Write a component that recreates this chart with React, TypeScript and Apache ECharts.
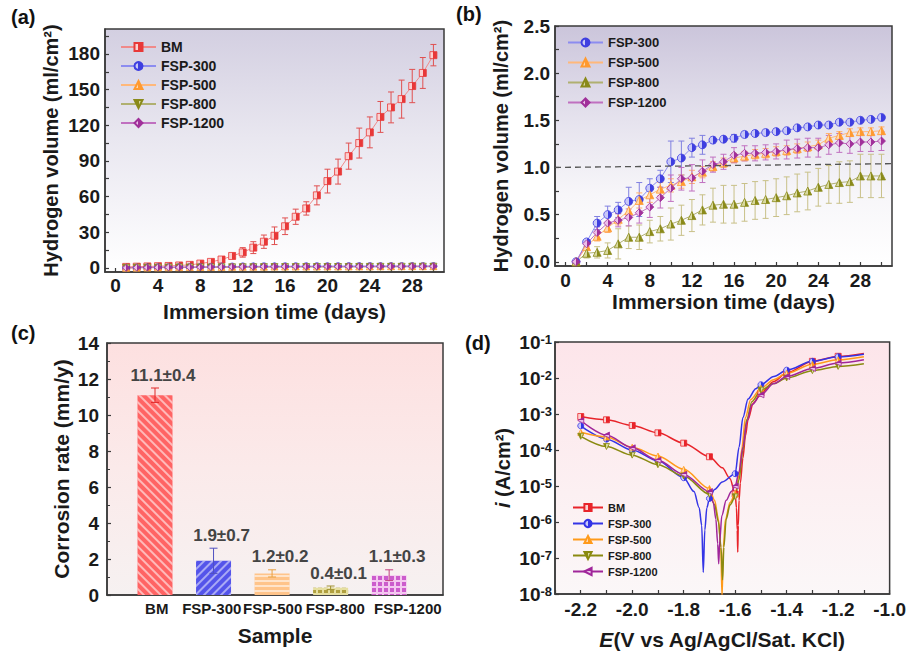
import React, { useEffect, useRef } from 'react';
import * as echarts from 'echarts';

// ---------- data ----------
const days = [1, 2, 3, 4, 5, 6, 7, 8, 9, 10, 11, 12, 13, 14, 15, 16, 17, 18, 19, 20, 21, 22, 23, 24, 25, 26, 27, 28, 29, 30];

const bmVolume = [0.8, 1.0, 1.2, 1.4, 1.6, 2.0, 2.5, 3.6, 5, 7, 10, 13, 17, 22, 27, 35, 43, 50, 61, 73, 81, 94, 105, 114, 127, 135, 142, 153, 164, 179];
const bmVolumeErr = [0.3, 0.3, 0.3, 0.4, 0.4, 0.5, 0.6, 0.8, 1, 1.5, 2, 4, 5, 5.6, 7.4, 7, 6.4, 5.6, 8, 10, 10.5, 11, 12.6, 13, 13, 13, 16, 14, 13, 9];

const fsp300Volume = [0, 0.21, 0.41, 0.5, 0.55, 0.64, 0.66, 0.78, 0.88, 1.06, 1.1, 1.21, 1.24, 1.29, 1.3, 1.31, 1.35, 1.36, 1.37, 1.38, 1.39, 1.42, 1.43, 1.45, 1.45, 1.48, 1.48, 1.5, 1.51, 1.53];
const fsp300Err = [0, 0.02, 0.07, 0.09, 0.08, 0.15, 0.18, 0.1, 0.09, 0.22, 0.18, 0.1, 0.1, 0.03, 0.03, 0.04, 0.03, 0.03, 0.03, 0.03, 0.02, 0.02, 0.02, 0.02, 0.02, 0.02, 0.02, 0.02, 0.02, 0.02];
const fsp500Volume = [0, 0.16, 0.27, 0.36, 0.45, 0.54, 0.65, 0.71, 0.77, 0.81, 0.85, 0.9, 0.95, 1.01, 1.05, 1.1, 1.12, 1.14, 1.15, 1.17, 1.18, 1.2, 1.22, 1.24, 1.31, 1.34, 1.37, 1.38, 1.38, 1.39];
const fsp500Err = [0, 0.03, 0.05, 0.05, 0.06, 0.07, 0.08, 0.08, 0.07, 0.07, 0.07, 0.07, 0.06, 0.05, 0.05, 0.05, 0.05, 0.05, 0.05, 0.05, 0.05, 0.05, 0.05, 0.05, 0.05, 0.04, 0.04, 0.04, 0.04, 0.04];
const fsp800Volume = [0, 0.09, 0.1, 0.12, 0.19, 0.26, 0.26, 0.32, 0.35, 0.4, 0.44, 0.49, 0.55, 0.6, 0.61, 0.61, 0.63, 0.65, 0.66, 0.68, 0.7, 0.73, 0.75, 0.79, 0.82, 0.84, 0.85, 0.91, 0.91, 0.91];
const fsp800Err = [0, 0.05, 0.06, 0.08, 0.16, 0.12, 0.13, 0.12, 0.13, 0.17, 0.16, 0.17, 0.16, 0.18, 0.2, 0.2, 0.2, 0.2, 0.2, 0.2, 0.2, 0.2, 0.2, 0.2, 0.2, 0.22, 0.22, 0.23, 0.23, 0.23];
const fsp1200Volume = [0, 0.19, 0.31, 0.41, 0.44, 0.47, 0.52, 0.58, 0.68, 0.78, 0.88, 0.89, 0.96, 1.03, 1.06, 1.13, 1.15, 1.15, 1.16, 1.17, 1.19, 1.2, 1.21, 1.21, 1.24, 1.26, 1.25, 1.27, 1.27, 1.28];
const fsp1200Err = [0, 0.03, 0.06, 0.07, 0.07, 0.09, 0.11, 0.11, 0.11, 0.14, 0.12, 0.14, 0.12, 0.08, 0.08, 0.08, 0.08, 0.08, 0.08, 0.08, 0.1, 0.1, 0.1, 0.1, 0.1, 0.1, 0.1, 0.1, 0.1, 0.1];

const referenceLine = [[-1, 1.0], [31, 1.04]];

const samples = ['BM', 'FSP-300', 'FSP-500', 'FSP-800', 'FSP-1200'];
const corrosionRate = [11.1, 1.9, 1.2, 0.4, 1.1];
const corrosionErr = [0.4, 0.7, 0.2, 0.1, 0.3];

// polarization curves: [E (V), i (A/cm2)]
const polBM = [[-2.2, 8.5e-4], [-2.1, 6.9e-4], [-2.0, 4.8e-4], [-1.9, 3.0e-4], [-1.8, 1.55e-4], [-1.7, 6.5e-5], [-1.65, 3.2e-5], [-1.62, 1.6e-5], [-1.6, 6e-6], [-1.595, 2.5e-6], [-1.592, 6e-7], [-1.59, 1.45e-7], [-1.588, 8e-7], [-1.585, 4e-6], [-1.58, 1.2e-5], [-1.57, 6e-5], [-1.56, 2.5e-4], [-1.55, 7e-4], [-1.53, 2e-3], [-1.5, 3.8e-3], [-1.45, 8e-3], [-1.4, 1.4e-2], [-1.3, 2.9e-2], [-1.2, 4e-2], [-1.1, 4.8e-2]];
const pol300 = [[-2.2, 4.7e-4], [-2.1, 2.0e-4], [-2.0, 1.0e-4], [-1.9, 5e-5], [-1.8, 1.7e-5], [-1.76, 7e-6], [-1.74, 2.5e-6], [-1.73, 8e-7], [-1.724, 4e-8], [-1.718, 6e-7], [-1.71, 2.5e-6], [-1.7, 4.5e-6], [-1.68, 8e-6], [-1.65, 1.3e-5], [-1.6, 2.2e-5], [-1.585, 1.2e-4], [-1.57, 8e-4], [-1.55, 2.6e-3], [-1.52, 5e-3], [-1.5, 6.5e-3], [-1.45, 1.1e-2], [-1.4, 1.65e-2], [-1.3, 2.9e-2], [-1.2, 3.9e-2], [-1.1, 4.6e-2]];
const pol500 = [[-2.2, 3.1e-4], [-2.1, 2.3e-4], [-2.0, 1.2e-4], [-1.9, 6.8e-5], [-1.8, 2.9e-5], [-1.7, 8.5e-6], [-1.68, 4e-6], [-1.665, 1.2e-6], [-1.656, 2e-7], [-1.651, 8e-9], [-1.646, 2e-7], [-1.638, 1.2e-6], [-1.62, 3.5e-6], [-1.6, 6e-6], [-1.585, 2e-5], [-1.575, 1e-4], [-1.56, 8e-4], [-1.54, 2.5e-3], [-1.5, 5.2e-3], [-1.45, 9e-3], [-1.4, 1.35e-2], [-1.3, 2.4e-2], [-1.2, 3.2e-2], [-1.1, 3.9e-2]];
const pol800 = [[-2.2, 2.4e-4], [-2.1, 1.25e-4], [-2.0, 7.2e-5], [-1.9, 3.9e-5], [-1.8, 1.9e-5], [-1.7, 5.9e-6], [-1.68, 3e-6], [-1.665, 1e-6], [-1.655, 2e-7], [-1.649, 2.5e-8], [-1.644, 2e-7], [-1.635, 1.2e-6], [-1.62, 3e-6], [-1.6, 5e-6], [-1.585, 1.5e-5], [-1.57, 1e-4], [-1.555, 7e-4], [-1.535, 2.2e-3], [-1.5, 4.6e-3], [-1.45, 7e-3], [-1.4, 1.0e-2], [-1.3, 1.6e-2], [-1.2, 2.1e-2], [-1.1, 2.5e-2]];
const pol1200 = [[-2.2, 6.6e-4], [-2.1, 2.6e-4], [-2.0, 1.15e-4], [-1.9, 5.2e-5], [-1.8, 2.1e-5], [-1.7, 7e-6], [-1.685, 3.5e-6], [-1.675, 1.2e-6], [-1.668, 2.5e-7], [-1.664, 6.9e-8], [-1.66, 3e-7], [-1.652, 1.5e-6], [-1.635, 4e-6], [-1.615, 7e-6], [-1.6, 1e-5], [-1.585, 2.5e-5], [-1.57, 1.2e-4], [-1.555, 6e-4], [-1.535, 1.8e-3], [-1.5, 3.4e-3], [-1.45, 7e-3], [-1.4, 1.1e-2], [-1.3, 1.85e-2], [-1.2, 2.6e-2], [-1.1, 3.2e-2]];
const markerPotentials = [-2.2, -2.1, -2.0, -1.9, -1.8, -1.7, -1.6, -1.5, -1.4, -1.3, -1.2];

// tick labels
const dayTicks = [0, 4, 8, 12, 16, 20, 24, 28];
const dayMinorTicks = [0, 2, 4, 6, 8, 10, 12, 14, 16, 18, 20, 22, 24, 26, 28, 30];
const volTicksA = [0, 30, 60, 90, 120, 150, 180];
const volMinorTicksA = [0, 15, 30, 45, 60, 75, 90, 105, 120, 135, 150, 165, 180, 195];
const volTicksB = [0, 0.5, 1.0, 1.5, 2.0, 2.5];
const volMinorTicksB = [0, 0.25, 0.5, 0.75, 1.0, 1.25, 1.5, 1.75, 2.0, 2.25, 2.5];
const sampleLabelPos = [1.03, 1.97, 3.01, 4.08, 5.32];
const potentialTicks = [-2.2, -2.0, -1.8, -1.6, -1.4, -1.2, -1.0];
const potentialMinorTicks = [-2.3, -2.2, -2.1, -2.0, -1.9, -1.8, -1.7, -1.6, -1.5, -1.4, -1.3, -1.2, -1.1, -1.0];

// ---------- styles ----------
const FONT = 'Arial, "Liberation Sans", Helvetica, sans-serif';
const AX = '#3a3a3a';
const TXT = '#1a1a1a';

const half = (c: string, light: string) => ({
  type: 'linear', x: 0, y: 0, x2: 1, y2: 0,
  colorStops: [
    { offset: 0, color: light }, { offset: 0.5, color: light },
    { offset: 0.5, color: c }, { offset: 1, color: c },
  ],
});

const vgrad = (stops: [number, string][]) => ({
  type: 'linear', x: 0, y: 0, x2: 0, y2: 1,
  colorStops: stops.map(([offset, color]) => ({ offset, color })),
});

const errorBars = (axisIdx: number, xs: number[], vals: number[], errs: number[], color: string, cap: number, width = 1) => ({
  type: 'custom',
  xAxisIndex: axisIdx,
  yAxisIndex: axisIdx,
  silent: true,
  z: 2,
  data: xs.map((x, i) => [x, vals[i] - errs[i], vals[i] + errs[i]]),
  encode: { x: 0, y: [1, 2] },
  renderItem: (_p: any, api: any) => {
    const x = api.value(0);
    const top = api.coord([x, api.value(2)]);
    const bot = api.coord([x, api.value(1)]);
    const style = { stroke: color, lineWidth: width };
    return {
      type: 'group',
      children: [
        { type: 'line', shape: { x1: top[0], y1: top[1], x2: bot[0], y2: bot[1] }, style },
        { type: 'line', shape: { x1: top[0] - cap, y1: top[1], x2: top[0] + cap, y2: top[1] }, style },
        { type: 'line', shape: { x1: bot[0] - cap, y1: bot[1], x2: bot[0] + cap, y2: bot[1] }, style },
      ],
    };
  },
});

const axisBase = {
  axisLine: { show: true, onZero: false, lineStyle: { color: AX, width: 1.5 } },
  axisTick: { show: true, inside: true, length: 4, lineStyle: { color: AX, width: 1.2 } },
  splitLine: { show: false },
};

const tickLabel = (size: number, margin: number) => ({
  color: TXT, fontSize: size, fontWeight: 'bold', fontFamily: FONT, margin,
});

const nameStyle = (size: number) => ({ color: TXT, fontSize: size, fontWeight: 'bold', fontFamily: FONT });

const volSeries = [
  { key: 'BM', vals: bmVolume, errs: bmVolumeErr, color: '#e83838', light: '#fbd0d0', line: '#f08a8a', err: '#e05050', symbol: 'rect', rotate: 0 },
  { key: 'FSP-300', vals: fsp300Volume, errs: fsp300Err, color: '#3f3fe0', light: '#c8c8f8', line: '#8c8cf0', err: '#8080e0', symbol: 'circle', rotate: 0 },
  { key: 'FSP-500', vals: fsp500Volume, errs: fsp500Err, color: '#ff9a30', light: '#ffd8b0', line: '#ffb87a', err: '#ffb070', symbol: 'triangle', rotate: 0 },
  { key: 'FSP-800', vals: fsp800Volume, errs: fsp800Err, color: '#8a8a1a', light: '#d8d8a0', line: '#b0b070', err: '#c8c088', symbol: 'triangle', rotate: 0 },
  { key: 'FSP-1200', vals: fsp1200Volume, errs: fsp1200Err, color: '#a0309a', light: '#ecc0ea', line: '#c070c0', err: '#c070c0', symbol: 'diamond', rotate: 0 },
];

const polSeries = [
  { key: 'BM', data: polBM, color: '#e8242a', light: '#fbd0d0', symbol: 'rect', rotate: 0 },
  { key: 'FSP-300', data: pol300, color: '#3434e6', light: '#c8c8f8', symbol: 'circle', rotate: 0 },
  { key: 'FSP-500', data: pol500, color: '#ff9a1a', light: '#ffd8b0', symbol: 'triangle', rotate: 0 },
  { key: 'FSP-800', data: pol800, color: '#8a8a10', light: '#d8d8a0', symbol: 'triangle', rotate: 180 },
  { key: 'FSP-1200', data: pol1200, color: '#a0269a', light: '#ecc0ea', symbol: 'triangle', rotate: 90 },
];

const barStyles = [
  { color: '#ff6464', decal: { symbol: 'rect', symbolSize: 1, dashArrayX: [1, 0], dashArrayY: [1.5, 4], rotation: Math.PI / 4, color: 'rgba(255,255,255,0.55)' } },
  { color: '#5454ea', decal: { symbol: 'rect', symbolSize: 1, dashArrayX: [1, 0], dashArrayY: [1.5, 4], rotation: -Math.PI / 4, color: 'rgba(255,255,255,0.5)' } },
  { color: '#ffc48a', decal: { symbol: 'rect', symbolSize: 1, dashArrayX: [1, 0], dashArrayY: [1.2, 3], rotation: 0, color: 'rgba(255,255,255,0.55)' } },
  { color: '#e6dfa0', decal: { symbol: 'rect', symbolSize: 1, dashArrayX: [4, 1.2], dashArrayY: [3, 1.2], rotation: 0, color: '#b0a040' } },
  { color: '#f4c8f0', decal: { symbol: 'rect', symbolSize: 1, dashArrayX: [4, 1.3], dashArrayY: [4, 1.3], rotation: 0, color: '#cc5ccc' } },
];
const barErrColors = ['#e02828', '#5050c0', '#e8a040', '#a09030', '#c04080'];

const stripPrefix = (n: string) => n.replace(/^[a-z]:/, '');

export default function App() {
  const ref = useRef<HTMLDivElement>(null);
  useEffect(() => {
    document.body.style.margin = '0';
    if (!ref.current) return;
    const chart = echarts.init(ref.current, undefined, { renderer: 'svg' });

    const grids = [
      { left: 105, top: 29, width: 339, height: 243, bg: vgrad([[0, '#d3cfe1'], [0.45, '#e9e7f0'], [1, '#ffffff']]) },
      { left: 555, top: 26, width: 337, height: 240, bg: vgrad([[0, '#cbc5db'], [0.4, '#e6e3ee'], [0.7, '#f7f6f9'], [1, '#ffffff']]) },
      { left: 107, top: 343, width: 336, height: 252, bg: vgrad([[0, '#fde0e0'], [0.5, '#fbeaea'], [1, '#f6f1f1']]) },
      { left: 555, top: 342, width: 338, height: 253, bg: vgrad([[0, '#fde5ea'], [0.6, '#fcf0f2'], [1, '#fbf7f8']]) },
    ];

    const series: any[] = [];

    // (a)
    volSeries.forEach((s) => {
      series.push(errorBars(0, days, s.vals, s.key === 'BM' ? s.errs : s.errs.map(() => 0), s.err, 3));
      series.push({
        name: 'a:' + s.key, type: 'line', xAxisIndex: 0, yAxisIndex: 0, z: 3,
        data: days.map((d, i) => [d, s.vals[i]]),
        symbol: s.symbol, symbolSize: 7, symbolRotate: s.key === 'FSP-800' ? 180 : 0,
        lineStyle: { color: s.line, width: 1 },
        itemStyle: { color: half(s.color, s.light), borderColor: s.color, borderWidth: 0.8 },
      });
    });

    // (b)
    volSeries.slice(1).forEach((s, k) => {
      series.push(errorBars(1, days, s.vals, s.errs, s.err, 3));
      const item: any = {
        name: 'b:' + s.key, type: 'line', xAxisIndex: 1, yAxisIndex: 1, z: 3,
        data: days.map((d, i) => [d, s.vals[i]]),
        symbol: s.symbol, symbolSize: 8,
        lineStyle: { color: s.line, width: 1 },
        itemStyle: { color: half(s.color, s.light), borderColor: s.color, borderWidth: 0.8 },
      };
      if (k === 0) {
        item.markLine = {
          silent: true, symbol: ['none', 'none'], label: { show: false },
          lineStyle: { type: [6, 4], color: '#555', width: 1.3 },
          data: [[{ coord: referenceLine[0] }, { coord: referenceLine[1] }]],
        };
      }
      series.push(item);
    });

    // (c)
    series.push({
      type: 'bar', xAxisIndex: 2, yAxisIndex: 2, barWidth: 35, z: 2,
      data: samples.map((_s, i) => ({ value: [i + 1, corrosionRate[i]], itemStyle: barStyles[i] })),
    });
    series.push({
      type: 'custom', xAxisIndex: 2, yAxisIndex: 2, z: 4, silent: true,
      data: samples.map((_s, i) => [i + 1, corrosionRate[i] - corrosionErr[i], corrosionRate[i] + corrosionErr[i], i]),
      encode: { x: 0, y: [1, 2] },
      renderItem: (_p: any, api: any) => {
        const x = api.value(0);
        const idx = api.value(3);
        const top = api.coord([x, api.value(2)]);
        const bot = api.coord([x, api.value(1)]);
        const style = { stroke: barErrColors[idx], lineWidth: 1 };
        return {
          type: 'group',
          children: [
            { type: 'line', shape: { x1: top[0], y1: top[1], x2: bot[0], y2: bot[1] }, style },
            { type: 'line', shape: { x1: top[0] - 4, y1: top[1], x2: top[0] + 4, y2: top[1] }, style },
            { type: 'line', shape: { x1: bot[0] - 4, y1: bot[1], x2: bot[0] + 4, y2: bot[1] }, style },
            {
              type: 'text', x: top[0] + 8, y: top[1] - 13,
              style: {
                text: `${corrosionRate[idx].toFixed(1)}±${corrosionErr[idx].toFixed(1)}`,
                fill: '#444', fontSize: 17, fontWeight: 'bold', fontFamily: FONT,
                align: 'center', verticalAlign: 'middle',
              },
            },
          ],
        };
      },
    });

    // (d)
    polSeries.forEach((s) => {
      series.push({
        name: 'd:' + s.key, type: 'line', xAxisIndex: 3, yAxisIndex: 3, z: 3,
        smooth: 0.3, smoothMonotone: 'x', showAllSymbol: true,
        symbol: s.symbol, symbolSize: 6, symbolRotate: s.rotate,
        data: s.data.map((p) => {
          const isMarker = markerPotentials.some((m) => Math.abs(m - p[0]) < 1e-6);
          return isMarker ? { value: p } : { value: p, symbol: 'none' };
        }),
        lineStyle: { color: s.color, width: 1.5 },
        itemStyle: { color: half(s.color, s.light), borderColor: s.color, borderWidth: 0.8 },
      });
    });

    const legendText = (size: number) => ({ color: TXT, fontSize: size, fontWeight: 'bold', fontFamily: FONT });

    const option: any = {
      animation: false,
      backgroundColor: '#ffffff',
      title: [
        { text: '(a)', left: 11, top: 7 },
        { text: '(b)', left: 456, top: 4 },
        { text: '(c)', left: 11, top: 323 },
        { text: '(d)', left: 465, top: 333 },
      ].map((t) => ({ ...t, padding: 0, textStyle: { fontSize: 20, fontWeight: 'bold', fontFamily: FONT, color: '#111' } })),
      grid: grids.map((g) => ({
        left: g.left, top: g.top, width: g.width, height: g.height,
        show: true, backgroundColor: g.bg, borderColor: AX, borderWidth: 1.5,
      })),
      legend: [
        {
          data: volSeries.map((s) => 'a:' + s.key), formatter: stripPrefix,
          orient: 'vertical', left: 120, top: 40, padding: 0, itemGap: 5,
          itemWidth: 35, itemHeight: 10, textStyle: legendText(14),
        },
        {
          data: volSeries.slice(1).map((s) => 'b:' + s.key), formatter: stripPrefix,
          orient: 'vertical', left: 567, top: 36, padding: 0, itemGap: 7,
          itemWidth: 35, itemHeight: 10, textStyle: legendText(13),
        },
        {
          data: polSeries.map((s) => 'd:' + s.key), formatter: stripPrefix,
          orient: 'vertical', left: 572, top: 502, padding: 0, itemGap: 5,
          itemWidth: 30, itemHeight: 9, textStyle: legendText(11),
        },
      ],
      xAxis: [
        {
          ...axisBase, gridIndex: 0, type: 'value', min: -1, max: 31,
          axisTick: { ...axisBase.axisTick, customValues: dayMinorTicks },
          axisLabel: { ...tickLabel(19, 4), customValues: dayTicks },
          name: 'Immersion time (days)', nameLocation: 'middle', nameGap: 29, nameTextStyle: nameStyle(21),
        },
        {
          ...axisBase, gridIndex: 1, type: 'value', min: -1, max: 31,
          axisTick: { ...axisBase.axisTick, customValues: dayMinorTicks },
          axisLabel: { ...tickLabel(19, 5), customValues: dayTicks },
          name: 'Immersion time (days)', nameLocation: 'middle', nameGap: 25, nameTextStyle: nameStyle(21),
        },
        {
          ...axisBase, gridIndex: 2, type: 'value', min: 0.18, max: 5.92,
          axisTick: { show: false },
          axisLabel: {
            ...tickLabel(15, 6), customValues: sampleLabelPos,
            formatter: (v: number) => samples[Math.round(v) - 1] ?? '',
          },
          name: 'Sample', nameLocation: 'middle', nameGap: 30, nameTextStyle: nameStyle(21),
        },
        {
          ...axisBase, gridIndex: 3, type: 'value', min: -2.3, max: -1.0,
          axisTick: { ...axisBase.axisTick, customValues: potentialMinorTicks },
          axisLabel: { ...tickLabel(19, 6), customValues: potentialTicks, formatter: (v: number) => v.toFixed(1) },
          name: '{i|E}(V vs Ag/AgCl/Sat. KCl)', nameLocation: 'middle', nameGap: 35,
          nameTextStyle: { ...nameStyle(21), rich: { i: { ...nameStyle(21), fontStyle: 'italic' } } },
        },
      ],
      yAxis: [
        {
          ...axisBase, gridIndex: 0, type: 'value', min: -3.5, max: 201,
          axisTick: { ...axisBase.axisTick, customValues: volMinorTicksA },
          axisLabel: { ...tickLabel(19, 5), customValues: volTicksA },
          name: 'Hydrogen volume (ml/cm²)', nameLocation: 'middle', nameGap: 44, nameTextStyle: nameStyle(20),
        },
        {
          ...axisBase, gridIndex: 1, type: 'value', min: -0.045, max: 2.5,
          axisTick: { ...axisBase.axisTick, customValues: volMinorTicksB },
          axisLabel: { ...tickLabel(19, 5), customValues: volTicksB, formatter: (v: number) => v.toFixed(1) },
          name: 'Hydrogen volume (ml/cm²)', nameLocation: 'middle', nameGap: 44, nameTextStyle: nameStyle(20),
        },
        {
          ...axisBase, gridIndex: 2, type: 'value', min: 0, max: 14, interval: 2,
          minorTick: { show: true, splitNumber: 2, length: 3, lineStyle: { color: AX } },
          axisLabel: { ...tickLabel(19, 8) },
          name: 'Corrosion rate (mm/y)', nameLocation: 'middle', nameGap: 35, nameTextStyle: nameStyle(21),
        },
        {
          ...axisBase, gridIndex: 3, type: 'log', logBase: 10, min: 1e-8, max: 1e-1, splitNumber: 7,
          axisLabel: {
            ...tickLabel(19, 3),
            formatter: (v: number) => `{b|10}{s|${Math.round(Math.log10(v))}}`,
            rich: {
              b: { fontSize: 19, fontWeight: 'bold', fontFamily: FONT, color: TXT },
              s: { fontSize: 13, fontWeight: 'bold', fontFamily: FONT, color: TXT, verticalAlign: 'top' },
            },
          },
          name: '{i|i} (A/cm²)', nameLocation: 'middle', nameGap: 42,
          nameTextStyle: { ...nameStyle(20), rich: { i: { ...nameStyle(20), fontStyle: 'italic' } } },
        },
      ],
      series,
    };

    chart.setOption(option);
    return () => chart.dispose();
  }, []);

  return <div ref={ref} style={{ width: 909, height: 651 }} />;
}
